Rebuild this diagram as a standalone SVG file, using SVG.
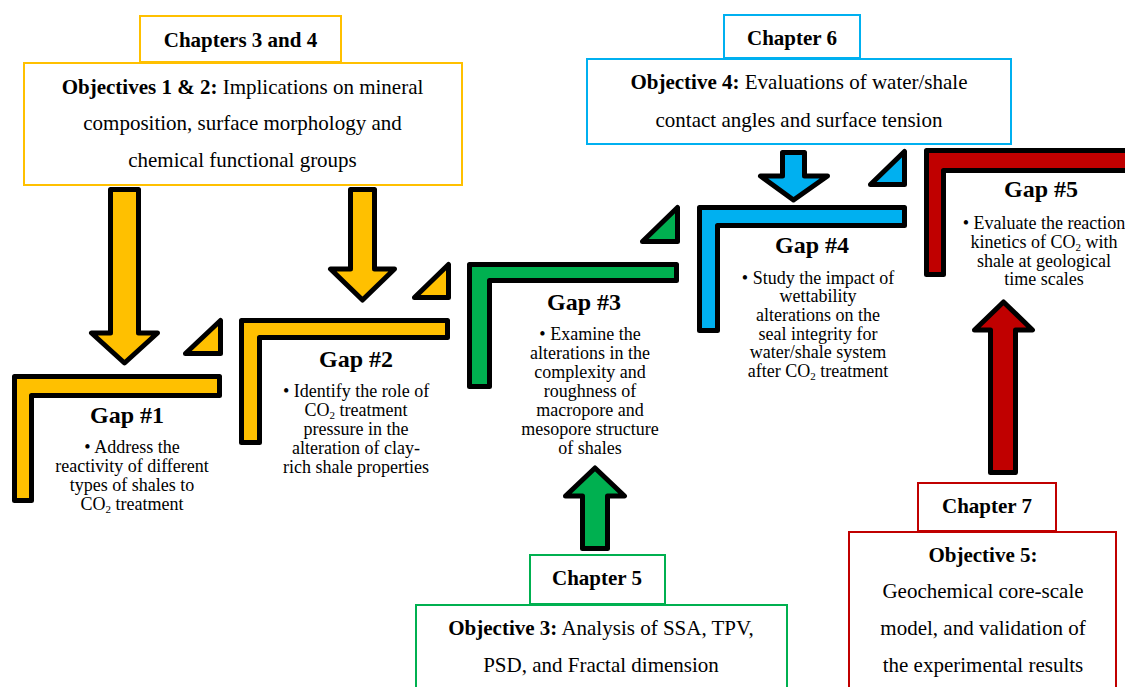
<svg xmlns="http://www.w3.org/2000/svg" width="1125" height="687" viewBox="0 0 1125 687" font-family="'Liberation Serif', 'DejaVu Serif', serif">
<style>
text{font-family:"Liberation Serif","DejaVu Serif",serif;fill:#000}
.ch{font-size:21px;font-weight:bold;text-anchor:middle}
.ob{font-size:21px;text-anchor:middle}
.gh{font-size:24px;font-weight:bold;text-anchor:middle}
.gb{font-size:18px;text-anchor:middle}
.sub{font-size:11px}
.box{fill:#fff;stroke-width:2}
.sh{stroke:#000;stroke-width:5;stroke-linejoin:round}
.y{fill:#FFC000}.g{fill:#00B050}.b{fill:#00B0F0}.r{fill:#C00000}
.sy{stroke:#FFC000}.sg{stroke:#00B050}.sb{stroke:#00B0F0}.sr{stroke:#C00000}
</style>
<rect width="1125" height="687" fill="#fff"/>

<g id="obj12">
<rect class="box sy" x="24" y="63" width="438" height="122"/>
<text class="ob" x="242.5" y="94"><tspan font-weight="bold">Objectives 1 &amp; 2:</tspan> Implications on mineral</text>
<text class="ob" x="242.5" y="130">composition, surface morphology and</text>
<text class="ob" x="242.5" y="167">chemical functional groups</text>
</g>
<g id="ch34">
<rect class="box sy" x="140" y="16" width="201" height="46"/>
<text class="ch" x="240.5" y="47">Chapters 3 and 4</text>
</g>

<g id="obj4">
<rect class="box sb" x="587" y="59" width="424" height="85"/>
<text class="ob" x="799" y="89"><tspan font-weight="bold">Objective 4:</tspan> Evaluations of water/shale</text>
<text class="ob" x="799" y="127">contact angles and surface tension</text>
</g>
<g id="ch6">
<rect class="box sb" x="724" y="15" width="136" height="43"/>
<text class="ch" x="792" y="45">Chapter 6</text>
</g>

<g id="obj3">
<rect class="box sg" x="416" y="605" width="371" height="90"/>
<text class="ob" x="601" y="635"><tspan font-weight="bold">Objective 3:</tspan> Analysis of SSA, TPV,</text>
<text class="ob" x="601" y="672">PSD, and Fractal dimension</text>
</g>
<g id="ch5">
<rect class="box sg" x="530" y="555" width="135" height="49"/>
<text class="ch" x="597" y="585">Chapter 5</text>
</g>

<g id="obj5">
<rect class="box sr" x="849" y="532" width="267" height="170"/>
<text class="ob" x="983" y="562" font-weight="bold">Objective 5:</text>
<text class="ob" x="983" y="598">Geochemical core-scale</text>
<text class="ob" x="983" y="635">model, and validation of</text>
<text class="ob" x="983" y="672">the experimental results</text>
</g>
<g id="ch7">
<rect class="box sr" x="918" y="483" width="138" height="48"/>
<text class="ch" x="987" y="513">Chapter 7</text>
</g>

<g id="gap1">
<path class="sh y" d="M14.5,376.5 H219.5 V395.5 H31.5 V500.5 H14.5 Z"/>
<path class="sh y" d="M220.5,320.5 V353.5 H185.5 Z"/>
<text class="gh" x="127" y="423">Gap #1</text>
<text class="gb" x="132" y="453">• Address the</text>
<text class="gb" x="132" y="472">reactivity of different</text>
<text class="gb" x="132" y="491">types of shales to</text>
<text class="gb" x="132" y="510">CO<tspan class="sub" dy="3">2</tspan><tspan dy="-3"> treatment</tspan></text>
</g>

<g id="gap2">
<path class="sh y" d="M241.5,320.5 H447.5 V337.5 H259.5 V442.5 H241.5 Z"/>
<path class="sh y" d="M448.5,264.5 V297.5 H414.5 Z"/>
<text class="gh" x="356" y="367">Gap #2</text>
<text class="gb" x="356" y="397">• Identify the role of</text>
<text class="gb" x="356" y="416">CO<tspan class="sub" dy="3">2</tspan><tspan dy="-3"> treatment</tspan></text>
<text class="gb" x="356" y="435">pressure in the</text>
<text class="gb" x="356" y="454">alteration of clay-</text>
<text class="gb" x="356" y="473">rich shale properties</text>
</g>

<g id="gap3">
<path class="sh g" d="M469.5,264.5 H676.5 V280.5 H489.5 V386.5 H469.5 Z"/>
<path class="sh g" d="M677.5,207.5 V241.5 H642.5 Z"/>
<text class="gh" x="584" y="310">Gap #3</text>
<text class="gb" x="590" y="340">• Examine the</text>
<text class="gb" x="590" y="359">alterations in the</text>
<text class="gb" x="590" y="378">complexity and</text>
<text class="gb" x="590" y="397">roughness of</text>
<text class="gb" x="590" y="416">macropore and</text>
<text class="gb" x="590" y="435">mesopore structure</text>
<text class="gb" x="590" y="454">of shales</text>
</g>

<g id="gap4">
<path class="sh b" d="M699.5,207.5 H904.5 V225.5 H717.5 V330.5 H699.5 Z"/>
<path class="sh b" d="M904.5,151.5 V184.5 H870.5 Z"/>
<text class="gh" x="812" y="253">Gap #4</text>
<text class="gb" x="818" y="284">• Study the impact of</text>
<text class="gb" x="818" y="302">wettability</text>
<text class="gb" x="818" y="321">alterations on the</text>
<text class="gb" x="818" y="340">seal integrity for</text>
<text class="gb" x="818" y="358">water/shale system</text>
<text class="gb" x="818" y="377">after CO<tspan class="sub" dy="3">2</tspan><tspan dy="-3"> treatment</tspan></text>
</g>

<g id="gap5">
<path class="sh r" d="M926.5,150.5 H1135 V170.5 H943.5 V274.5 H926.5 Z"/>
<text class="gh" x="1041" y="197">Gap #5</text>
<text class="gb" x="1044" y="229">• Evaluate the reaction</text>
<text class="gb" x="1044" y="248">kinetics of CO<tspan class="sub" dy="3">2</tspan><tspan dy="-3"> with</tspan></text>
<text class="gb" x="1044" y="267">shale at geological</text>
<text class="gb" x="1044" y="285">time scales</text>
</g>

<g id="connectors">
<path class="sh y" d="M110.5,189.5 H138.5 V333 H157.5 L124.5,363 L91.5,333 H110.5 Z"/>
<path class="sh y" d="M350.5,189.5 H374.5 V269 H394.5 L362.5,300 L330.5,269 H350.5 Z"/>
<path class="sh b" d="M782.5,152.5 H804.5 V176 H827.5 L793.5,200 L760.5,176 H782.5 Z"/>
<path class="sh g" d="M582.5,548.5 V496 H565.5 L595,468 L624.5,496 H607.5 V548.5 Z"/>
<path class="sh r" d="M990.5,472.5 V330 H974.5 L1003.5,302 L1032.5,330 H1015.5 V472.5 Z"/>
</g>
</svg>
